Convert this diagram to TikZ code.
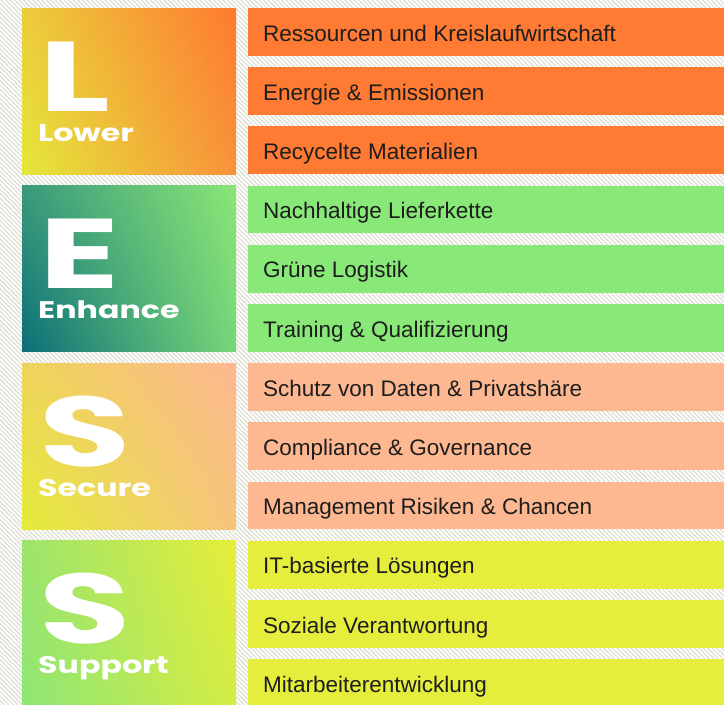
\documentclass[tikz,border=0pt]{standalone}
\usepackage{fontspec}
\setmainfont{Liberation Sans}
\newfontfamily\lesfont{Poppins}
\usetikzlibrary{patterns.meta,shadings}

\definecolor{hatch}{HTML}{DEE0D2}
\definecolor{textdark}{HTML}{1E1E1E}
% bar colours
\definecolor{lowbar}{HTML}{FF7A33}
\definecolor{enhbar}{HTML}{88E878}
\definecolor{secbar}{HTML}{FDB891}
\definecolor{supbar}{HTML}{E5EE3C}
% box gradients (lower left, upper left, upper right, lower right)
\definecolor{lowLL}{HTML}{E4E83A}
\definecolor{lowUL}{HTML}{ECCC3C}
\definecolor{lowUR}{HTML}{FF7A30}
\definecolor{lowLR}{HTML}{F8923A}
\definecolor{enhLL}{HTML}{0B6E78}
\definecolor{enhUL}{HTML}{3A9A7C}
\definecolor{enhUR}{HTML}{8AE676}
\definecolor{enhLR}{HTML}{78D678}
\definecolor{secLL}{HTML}{E4EC3A}
\definecolor{secUL}{HTML}{EED45A}
\definecolor{secUR}{HTML}{FDB890}
\definecolor{secLR}{HTML}{F6C47C}
\definecolor{supLL}{HTML}{8EE676}
\definecolor{supUL}{HTML}{9CE46C}
\definecolor{supUR}{HTML}{E6EE3A}
\definecolor{supLR}{HTML}{D4EC44}

\tikzset{
  bartext/.style={anchor=base west, inner sep=0pt, text=textdark,
    font=\fontsize{22.5}{26}\selectfont},
  bigletter/.style={anchor=base west, inner sep=0pt, text=white,
    font=\lesfont\bfseries\fontsize{99}{99}\selectfont},
  subtitle/.style={anchor=base west, inner sep=0pt, text=white,
    font=\lesfont\bfseries\fontsize{24}{24}\selectfont}
}

\begin{document}
\begin{tikzpicture}[x=1pt,y=-1pt]
\useasboundingbox (0,0) rectangle (724,705);
\clip (0,0) rectangle (724,705);
\fill[white] (0,0) rectangle (724,705);
\fill[pattern={Lines[angle=-45,distance=3.2pt,line width=1.3pt]}, pattern color=hatch]
  (0,0) rectangle (724,705);

% left boxes
\foreach \grp/\lead/\word/\ca/\cb/\cc/\cd [count=\g from 0] in {
  lower/L/Lower/lowLL/lowUL/lowUR/lowLR,
  enhance/E/Enhance/enhLL/enhUL/enhUR/enhLR,
  secure/S/Secure/secLL/secUL/secUR/secLR,
  support/S/Support/supLL/supUL/supUR/supLR}
{
\pgfmathsetmacro{\grptop}{8+\g*177.6}
\shade[lower left=\ca, upper left=\cb, upper right=\cc, lower right=\cd]
  (22,\grptop) rectangle +(214,166);
\node[bigletter] (\grp-letter) at (39,\grptop+103) {\scalebox{1.5}[1]{\lead}};
\node[subtitle] (\grp-word) at (38,\grptop+133) {\scalebox{1.32}[1]{\word}};
}

% right bars
\foreach \txt/\col [count=\b from 0] in {
  Ressourcen und Kreislaufwirtschaft/lowbar,
  Energie \& Emissionen/lowbar,
  Recycelte Materialien/lowbar,
  Nachhaltige Lieferkette/enhbar,
  Grüne Logistik/enhbar,
  Training \& Qualifizierung/enhbar,
  Schutz von Daten \& Privatshäre/secbar,
  Compliance \& Governance/secbar,
  Management Risiken \& Chancen/secbar,
  IT-basierte Lösungen/supbar,
  Soziale Verantwortung/supbar,
  Mitarbeiterentwicklung/supbar}
{
\pgfmathsetmacro{\bartop}{8+\b*59.2}
\fill[\col] (248,\bartop) rectangle +(476,47.8);
\node[bartext] (bar\b) at (263,\bartop+33) {\txt};
}

\end{tikzpicture}
\end{document}
